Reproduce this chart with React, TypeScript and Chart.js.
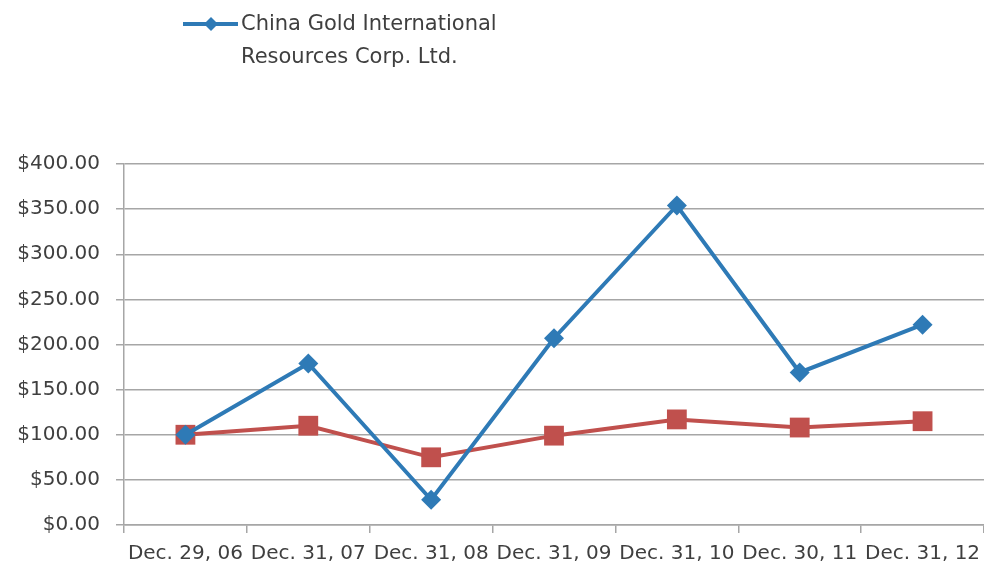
import React, { useEffect, useRef } from "react";
import { Chart, registerables } from "chart.js";

Chart.register(...registerables);

// Period-end dates of the cumulative return comparison
const categories = [
  "Dec. 29, 06",
  "Dec. 31, 07",
  "Dec. 31, 08",
  "Dec. 31, 09",
  "Dec. 31, 10",
  "Dec. 30, 11",
  "Dec. 31, 12",
];

// Value of $100 invested in China Gold International Resources Corp. Ltd.
const chinaGold = [100, 179, 28, 207, 354, 169, 222];
// Value of $100 invested in the comparison index
const indexReturn = [100, 110, 75, 99, 117, 108, 115];

const legendLines = ["China Gold International", "Resources Corp. Ltd."];

const BLUE = "#2e7ab6";
const RED = "#c0504d";
const TEXT = "#3f3f3f";
const GRID = "#a6a6a6";
const FONT_FAMILY = "'DejaVu Sans', sans-serif";

// Draws the single-entry, two-line legend in the top left corner
const legendPlugin = {
  id: "topLegend",
  afterDraw(chart: Chart) {
    const ctx = chart.ctx;
    ctx.save();
    const y0 = 24;
    ctx.strokeStyle = BLUE;
    ctx.lineWidth = 4;
    ctx.beginPath();
    ctx.moveTo(183, y0);
    ctx.lineTo(238, y0);
    ctx.stroke();
    ctx.fillStyle = BLUE;
    const r = 7;
    ctx.beginPath();
    ctx.moveTo(211 - r, y0);
    ctx.lineTo(211, y0 - r);
    ctx.lineTo(211 + r, y0);
    ctx.lineTo(211, y0 + r);
    ctx.closePath();
    ctx.fill();
    ctx.fillStyle = TEXT;
    ctx.font = `21px ${FONT_FAMILY}`;
    ctx.textBaseline = "middle";
    ctx.textAlign = "left";
    legendLines.forEach((line, i) => {
      ctx.fillText(line, 241, y0 + 1 + i * 33);
    });
    ctx.restore();
  },
};

export default function App() {
  const canvasRef = useRef<HTMLCanvasElement | null>(null);

  useEffect(() => {
    document.body.style.margin = "0";
    const canvas = canvasRef.current;
    if (!canvas) return;
    const chart = new Chart(canvas, {
      type: "line",
      data: {
        labels: categories,
        datasets: [
          {
            label: "China Gold International Resources Corp. Ltd.",
            data: chinaGold,
            borderColor: BLUE,
            backgroundColor: BLUE,
            borderWidth: 4,
            pointStyle: "rectRot",
            pointRadius: 10,
            pointHoverRadius: 10,
            pointBorderWidth: 0,
            tension: 0,
          },
          {
            label: "Index",
            data: indexReturn,
            borderColor: RED,
            backgroundColor: RED,
            borderWidth: 4,
            pointStyle: "rect",
            pointRadius: 14,
            pointHoverRadius: 14,
            pointBorderWidth: 0,
            tension: 0,
          },
        ],
      },
      options: {
        responsive: false,
        animation: false,
        layout: {
          autoPadding: false,
          padding: { top: 164, left: 0, right: 0, bottom: 0 },
        },
        plugins: {
          legend: { display: false },
          tooltip: { enabled: false },
        },
        scales: {
          x: {
            offset: true,
            grid: {
              offset: true,
              drawOnChartArea: false,
              drawTicks: true,
              tickLength: 8,
              color: GRID,
              lineWidth: 1.5,
            },
            border: { color: GRID, width: 1.5 },
            ticks: {
              autoSkip: false,
              maxRotation: 0,
              minRotation: 0,
              padding: 0,
              color: TEXT,
              // the tall line box places the labels below the tick marks
              font: { family: FONT_FAMILY, size: 20, lineHeight: 2.1 },
            },
            afterFit(scale: any) {
              scale.height = 44;
            },
          },
          y: {
            min: 0,
            max: 400,
            ticks: {
              stepSize: 50,
              padding: 16,
              color: TEXT,
              font: { family: FONT_FAMILY, size: 20 },
              callback: (v: any) => `$${Number(v).toFixed(2)}`,
            },
            grid: {
              color: GRID,
              lineWidth: 1.5,
              tickLength: 8,
            },
            border: { color: GRID, width: 1.5 },
            afterFit(scale: any) {
              scale.width = 124;
            },
          },
        },
      },
      plugins: [legendPlugin],
    });
    return () => chart.destroy();
  }, []);

  return (
    <div style={{ width: 984, height: 569, background: "#fff" }}>
      <canvas ref={canvasRef} width={984} height={569} />
    </div>
  );
}
